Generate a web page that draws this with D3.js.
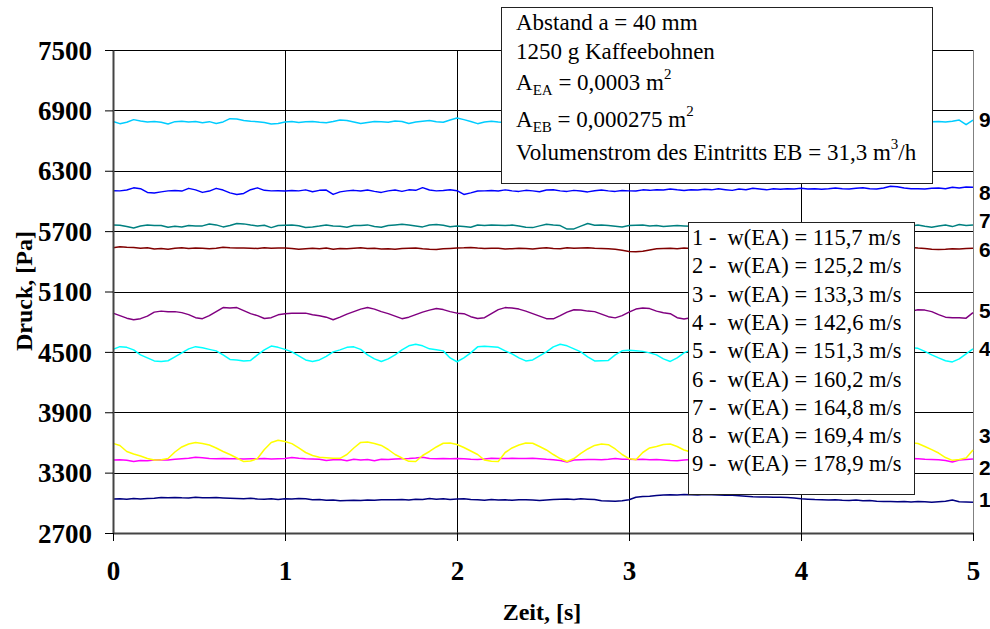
<!DOCTYPE html>
<html>
<head>
<meta charset="utf-8">
<script src="https://cdn.jsdelivr.net/npm/d3@7/dist/d3.min.js"></script>
<style>
  html, body { margin: 0; padding: 0; background: #fff; }
  svg { display: block; }
  .serif { font-family: "Liberation Serif", "Times New Roman", Times, serif; }
  .sans { font-family: "Liberation Sans", Arial, Helvetica, sans-serif; }
</style>
</head>
<body>
<svg id="chart" width="990" height="629"></svg>
<script>
// Pressure recordings, sampled every 0.04 s from 0 to 5 s (126 samples each), in Pa
const sampleStep = 0.04;

const s1 = [3038,3040,3036,3044,3038, 3042,3046,3052,3050,3054, 3050,3048,3055,3050,3050, 3052,3048,3045,3042,3040, 3045,3038,3035,3040,3034,
  3040,3038,3042,3040,3030, 3032,3026,3028,3020,3024, 3026,3024,3028,3026,3030, 3030,3030,3032,3028,3036, 3034,3042,3036,3040,3034,
  3038,3040,3032,3030,3026, 3032,3028,3030,3025,3030, 3030,3028,3024,3028,3032, 3035,3038,3034,3040,3036, 3032,3020,3018,3015,3020,
  3030,3055,3062,3065,3072, 3078,3080,3078,3082,3080, 3078,3082,3080,3078,3076, 3075,3070,3065,3060,3058, 3058,3055,3056,3052,3048,
  3040,3036,3032,3030,3028, 3030,3026,3024,3028,3020, 3022,3015,3012,3014,3010, 3012,3008,3012,3010,3005, 3010,3016,3028,3010,3008,
  3005];

const s2 = [3425,3428,3422,3410,3420, 3418,3425,3428,3425,3432, 3438,3442,3452,3448,3440, 3438,3440,3437,3438,3436, 3438,3438,3440,3436,3438,
  3440,3450,3442,3438,3436, 3432,3420,3428,3430,3418, 3432,3425,3430,3418,3432, 3430,3436,3438,3440,3445, 3452,3440,3438,3440,3438,
  3440,3438,3432,3430,3436, 3442,3440,3440,3442,3440, 3440,3442,3438,3432,3428, 3420,3405,3425,3428,3430, 3430,3428,3432,3440,3432,
  3432,3430,3432,3428,3430, 3425,3420,3418,3425,3430, 3432,3428,3435,3430,3428, 3432,3435,3430,3428,3432, 3436,3430,3432,3428,3430,
  3432,3435,3430,3428,3432, 3430,3428,3432,3435,3430, 3432,3430,3428,3432,3435, 3432,3440,3438,3432,3430, 3428,3420,3405,3425,3430,
  3436];

const s3 = [3591,3570,3510,3485,3465, 3440,3425,3428,3440,3505, 3555,3585,3600,3590,3574, 3545,3510,3480,3445,3410, 3415,3440,3530,3600,3622,
  3610,3588,3545,3500,3470, 3452,3448,3444,3442,3480, 3545,3600,3605,3590,3570, 3530,3480,3445,3412,3410, 3470,3510,3555,3592,3595,
  3580,3550,3515,3480,3425, 3412,3410,3500,3545,3575, 3595,3592,3560,3525,3480, 3440,3410,3440,3492,3535, 3570,3585,3578,3535,3480,
  3440,3428,3500,3545,3560, 3580,3585,3560,3525,3505, 3470,3450,3430,3418,3415, 3430,3480,3550,3590,3580, 3560,3520,3480,3450,3425,
  3412,3415,3470,3530,3580, 3595,3585,3560,3520,3480, 3450,3425,3412,3430,3500, 3560,3598,3590,3560,3528, 3495,3450,3422,3430,3445,
  3525];

const s4 = [4525,4552,4545,4520,4470, 4440,4410,4405,4412,4450, 4490,4530,4552,4540,4525, 4510,4470,4425,4420,4410, 4415,4470,4520,4558,4545,
  4525,4500,4460,4420,4405, 4420,4455,4500,4520,4545, 4550,4525,4470,4430,4405, 4430,4470,4520,4560,4575, 4560,4530,4522,4510,4440,
  4402,4440,4490,4550,4555, 4552,4545,4510,4480,4440, 4410,4420,4460,4500,4550, 4575,4560,4530,4500,4450, 4410,4412,4415,4470,4510,
  4515,4512,4505,4490,4470, 4430,4405,4440,4490,4520, 4545,4555,4540,4505,4470, 4440,4415,4405,4420,4460, 4500,4535,4555,4550,4520,
  4480,4445,4415,4405,4425, 4470,4510,4545,4555,4540, 4510,4480,4450,4440,4470, 4520,4540,4535,4505,4470, 4440,4412,4400,4430,4480,
  4530];

const s5 = [4885,4860,4835,4820,4830, 4855,4895,4905,4898,4900, 4890,4870,4840,4830,4860, 4900,4940,4935,4940,4910, 4880,4860,4832,4840,4868,
  4880,4885,4885,4885,4870, 4860,4845,4820,4845,4875, 4900,4925,4940,4925,4900, 4880,4855,4830,4845,4870, 4895,4915,4930,4920,4900,
  4885,4880,4850,4832,4840, 4880,4920,4940,4935,4925, 4905,4880,4855,4830,4828, 4860,4895,4918,4915,4905, 4900,4875,4850,4838,4860,
  4895,4925,4935,4930,4905, 4888,4880,4840,4826,4840, 4880,4915,4935,4930,4910, 4880,4855,4835,4830,4850, 4880,4910,4930,4932,4915,
  4890,4865,4840,4830,4848, 4880,4910,4930,4935,4920, 4895,4870,4845,4835,4850, 4880,4905,4918,4915,4900, 4870,4845,4838,4840,4835,
  4890];

const s6 = [5535,5545,5540,5538,5530, 5535,5522,5528,5520,5530, 5535,5528,5532,5530,5525, 5530,5540,5535,5532,5532, 5530,5528,5535,5530,5532,
  5532,5528,5520,5525,5530, 5526,5532,5520,5528,5524, 5530,5535,5528,5530,5522, 5526,5520,5528,5530,5532, 5525,5520,5518,5525,5528,
  5532,5534,5538,5532,5528, 5530,5530,5522,5526,5530, 5528,5522,5530,5534,5528, 5525,5535,5530,5532,5534, 5530,5528,5526,5520,5510,
  5498,5495,5500,5512,5525, 5528,5530,5526,5532,5528, 5530,5525,5532,5528,5530, 5534,5528,5530,5526,5530, 5532,5528,5524,5530,5528,
  5532,5530,5526,5528,5534, 5530,5525,5528,5532,5530, 5528,5532,5535,5530,5528, 5530,5538,5532,5528,5520, 5518,5520,5525,5522,5528,
  5530];

const s7 = [5762,5758,5745,5732,5750, 5760,5755,5756,5738,5748, 5740,5755,5750,5752,5770, 5762,5742,5755,5776,5772, 5760,5752,5758,5735,5755,
  5758,5760,5754,5736,5742, 5750,5760,5752,5748,5738, 5756,5755,5762,5745,5738, 5755,5762,5768,5760,5752, 5742,5760,5765,5758,5744,
  5752,5745,5738,5760,5756, 5762,5758,5755,5760,5752, 5738,5735,5752,5768,5760, 5755,5720,5722,5750,5775, 5758,5762,5755,5748,5742,
  5755,5758,5760,5752,5755, 5745,5750,5756,5752,5748, 5755,5760,5752,5746,5758, 5750,5744,5756,5760,5752, 5748,5755,5762,5750,5745,
  5756,5752,5748,5760,5755, 5750,5758,5746,5752,5760, 5755,5748,5752,5758,5750, 5744,5752,5760,5748,5738, 5752,5760,5745,5765,5755,
  5762];

const s8 = [6102,6100,6108,6130,6122, 6085,6078,6090,6100,6104, 6098,6125,6110,6085,6098, 6125,6108,6080,6065,6075, 6112,6130,6105,6100,6102,
  6098,6104,6100,6110,6092, 6105,6108,6065,6090,6100, 6105,6098,6108,6095,6085, 6100,6108,6095,6110,6105, 6132,6108,6100,6104,6110,
  6102,6065,6080,6098,6100, 6104,6098,6110,6100,6095, 6105,6100,6092,6108,6112, 6100,6095,6105,6098,6090, 6102,6108,6100,6095,6104,
  6100,6098,6110,6105,6112, 6108,6118,6110,6104,6112, 6108,6115,6110,6120,6112, 6105,6118,6112,6125,6118, 6110,6120,6115,6122,6118,
  6125,6118,6122,6115,6120, 6128,6120,6118,6125,6130, 6122,6118,6128,6145,6140, 6128,6120,6122,6118,6125, 6128,6122,6135,6128,6138,
  6135];

const s9 = [6790,6768,6782,6808,6795, 6785,6790,6782,6765,6788, 6792,6785,6790,6778,6788, 6770,6785,6818,6815,6800, 6792,6788,6780,6765,6770,
  6785,6790,6780,6786,6790, 6782,6778,6790,6805,6800, 6785,6770,6780,6790,6788, 6782,6795,6790,6770,6785, 6792,6800,6788,6782,6805,
  6825,6808,6790,6768,6785, 6792,6785,6780,6788,6790, 6782,6788,6795,6780,6785, 6790,6778,6786,6792,6784, 6780,6788,6790,6782,6786,
  6790,6784,6780,6792,6788, 6782,6786,6790,6784,6780, 6788,6792,6786,6780,6784, 6790,6786,6782,6788,6792, 6784,6780,6786,6790,6788,
  6782,6786,6792,6784,6780, 6788,6790,6784,6782,6786, 6790,6788,6782,6786,6790, 6784,6780,6788,6792,6788, 6790,6785,6792,6804,6758,
  6804];

const seriesValues = [s1, s2, s3, s4, s5, s6, s7, s8, s9];
const seriesNames = ["1", "2", "3", "4", "5", "6", "7", "8", "9"];
const seriesColors = ["#000080", "#FF00FF", "#FFFF00", "#00FFFF", "#800080", "#800000", "#008080", "#0000FF", "#00CCFF"];
// pressure level at which each curve number is written beside the right edge
const seriesLabelAt = [3037, 3355, 3672, 4535, 4912, 5517, 5804, 6087, 6809];

const legendTexts = ["115,7", "125,2", "133,3", "142,6", "151,3", "160,2", "164,8", "169,4", "178,9"];

const xTicks = [0, 1, 2, 3, 4, 5];
const yTicks = [2700, 3300, 3900, 4500, 5100, 5700, 6300, 6900, 7500];

const svg = d3.select("#chart");
svg.append("rect").attr("width", 990).attr("height", 629).attr("fill", "#fff");

const x = d3.scaleLinear().domain([0, 5]).range([113, 973]);
const y = d3.scaleLinear().domain([2700, 7500]).range([533, 50]);

// grid
const grid = svg.append("g");
grid.selectAll("line.h").data(yTicks.filter(v => v > 2700)).enter().append("line")
  .attr("x1", x(0)).attr("x2", x(5))
  .attr("y1", d => Math.round(y(d)) + 0.5).attr("y2", d => Math.round(y(d)) + 0.5)
  .attr("stroke", "#000").attr("stroke-width", 1);
grid.selectAll("line.v").data(xTicks.filter(v => v > 0 && v < 5)).enter().append("line")
  .attr("y1", y(7500)).attr("y2", y(2700))
  .attr("x1", d => Math.round(x(d)) + 0.5).attr("x2", d => Math.round(x(d)) + 0.5)
  .attr("stroke", "#000").attr("stroke-width", 1);
// right border of plot area
grid.append("line")
  .attr("x1", Math.round(x(5)) + 0.5).attr("x2", Math.round(x(5)) + 0.5)
  .attr("y1", y(7500)).attr("y2", y(2700))
  .attr("stroke", "#808080").attr("stroke-width", 1);

// curves
const times = s1.map((_, i) => i * sampleStep);
const line = d3.line().x((d, i) => x(times[i])).y(d => y(d));
svg.append("g").selectAll("path").data(seriesValues).enter().append("path")
  .attr("d", d => line(d))
  .attr("fill", "none")
  .attr("stroke", (d, i) => seriesColors[i])
  .attr("stroke-width", 1.5)
  .attr("stroke-linejoin", "round");

// axes
const yAxis = svg.append("g").attr("transform", `translate(${x(0)},0)`)
  .call(d3.axisLeft(y).tickValues(yTicks).tickFormat(d3.format("d"))
    .tickSizeInner(8).tickSizeOuter(0).tickPadding(13));
const xAxis = svg.append("g").attr("transform", `translate(0,${y(2700)})`)
  .call(d3.axisBottom(x).tickValues(xTicks).tickFormat(d3.format("d"))
    .tickSizeInner(8).tickSizeOuter(0).tickPadding(20));
[yAxis, xAxis].forEach(ax => {
  ax.select(".domain").attr("stroke", "#444").attr("stroke-width", 2);
  ax.selectAll(".tick line").attr("stroke", "#000").attr("stroke-width", 1);
  ax.selectAll(".tick text")
    .attr("class", "serif")
    .attr("font-size", 27).attr("font-weight", "bold").attr("fill", "#000");
});
yAxis.selectAll(".tick text").attr("dy", "0.34em");
xAxis.selectAll(".tick text").attr("dy", "0.71em");

// axis titles
svg.append("text").attr("class", "serif")
  .attr("transform", "translate(32,291) rotate(-90)")
  .attr("text-anchor", "middle").attr("font-size", 24).attr("font-weight", "bold")
  .text("Druck, [Pa]");
svg.append("text").attr("class", "serif")
  .attr("x", 542).attr("y", 620)
  .attr("text-anchor", "middle").attr("font-size", 24).attr("font-weight", "bold")
  .text("Zeit, [s]");

// curve numbers at the right edge
svg.append("g").selectAll("text").data(seriesLabelAt).enter().append("text")
  .attr("class", "sans")
  .attr("x", 979).attr("y", d => y(d)).attr("dy", "0.36em")
  .attr("font-size", 21).attr("font-weight", "bold")
  .text((d, i) => seriesNames[i]);

// test conditions box
const info = svg.append("g").attr("class", "serif");
info.append("rect").attr("x", 501.5).attr("y", 7.5).attr("width", 431).attr("height", 176)
  .attr("fill", "#fff").attr("stroke", "#222").attr("stroke-width", 1);
const fs = 23, sub = 15;
info.append("text").attr("x", 516).attr("y", 29.5).attr("font-size", fs).text("Abstand a = 40 mm");
info.append("text").attr("x", 516).attr("y", 58.5).attr("font-size", fs).text("1250 g Kaffeebohnen");
const t3 = info.append("text").attr("x", 516).attr("y", 90).attr("font-size", fs);
t3.append("tspan").text("A");
t3.append("tspan").attr("font-size", sub).attr("dy", 5).text("EA");
t3.append("tspan").attr("dy", -5).text(" = 0,0003 m");
t3.append("tspan").attr("font-size", sub).attr("dy", -11).text("2");
const t4 = info.append("text").attr("x", 516).attr("y", 126.5).attr("font-size", fs);
t4.append("tspan").text("A");
t4.append("tspan").attr("font-size", sub).attr("dy", 5).text("EB");
t4.append("tspan").attr("dy", -5).text(" = 0,000275 m");
t4.append("tspan").attr("font-size", sub).attr("dy", -11).text("2");
const t5 = info.append("text").attr("x", 516).attr("y", 160).attr("font-size", fs);
t5.append("tspan").text("Volumenstrom des Eintritts EB = 31,3 m");
t5.append("tspan").attr("font-size", sub).attr("dy", -11).text("3");
t5.append("tspan").attr("dy", 11).text("/h");

// legend of inlet velocities
const leg = svg.append("g").attr("class", "serif");
leg.append("rect").attr("x", 688.5).attr("y", 222.5).attr("width", 226).attr("height", 272)
  .attr("fill", "#fff").attr("stroke", "#222").attr("stroke-width", 1);
leg.selectAll("text.item").data(legendTexts).enter().append("text")
  .attr("x", 692).attr("y", (d, i) => 245 + i * 28.3)
  .attr("font-size", 22.5)
  .style("white-space", "pre")
  .text((d, i) => `${seriesNames[i]} -  w(EA) = ${d} m/s`);
</script>
</body>
</html>
